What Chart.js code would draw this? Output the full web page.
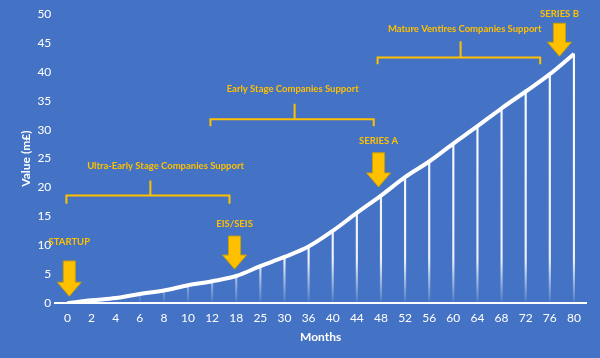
<!DOCTYPE html>
<html>
<head>
<meta charset="utf-8">
<script src="https://cdn.jsdelivr.net/npm/chart.js@4/dist/chart.umd.min.js"></script>
<style>
  html, body { margin: 0; padding: 0; background: #4472C4; }
  #wrap { width: 600px; height: 358px; }
</style>
</head>
<body>
<div id="wrap"><canvas id="growthChart"></canvas></div>
<script>
// Chart data
const months = ['0', '2', '4', '6', '8', '10', '12', '18', '25', '30', '36', '40', '44', '48', '52', '56', '60', '64', '68', '72', '76', '80'];
const values = [0, 0.5, 0.9, 1.6, 2.2, 3.1, 3.8, 4.7, 6.4, 8.0, 9.8, 12.5, 15.6, 18.6, 21.8, 24.5, 27.6, 30.6, 33.7, 36.6, 39.6, 43.1];
const yTicks = [0, 5, 10, 15, 20, 25, 30, 35, 40, 45, 50];

// Annotation texts
const milestoneLabels = ['STARTUP', 'EIS/SEIS', 'SERIES A', 'SERIES B'];
const stageLabels = ['Ultra-Early Stage Companies Support', 'Early Stage Companies Support', 'Mature Ventires Companies Support'];

const orange = '#FFC000';

// Milestone arrows: x in category index, y in chart values
const arrows = [
  { x: 0.08, text: 10.6, top: 7.3, tip: 1.2 },
  { x: 6.93, text: 13.7, top: 11.6, tip: 5.9 },
  { x: 12.9, text: 28.1, top: 26.0, tip: 20.1 },
  { x: 20.4, text: 50.0, top: 48.4, tip: 42.7 }
];
// Stage brackets
const brackets = [
  { x1: -0.04, x2: 6.72, mid: 3.44, textX: 4.07, y: 18.6, ends: 17.2, tick: 21.2, text: 23.8 },
  { x1: 5.93, x2: 12.7, mid: 9.42, textX: 9.34, y: 31.8, ends: 30.6, tick: 34.5, text: 37.0 },
  { x1: 12.86, x2: 19.6, mid: 16.3, textX: 16.47, y: 42.5, ends: 41.3, tick: 45.3, text: 47.4 }
];

const annotationPlugin = {
  id: 'annotations',
  afterDatasetsDraw(chart) {
    const ctx = chart.ctx;
    const xs = chart.scales.x;
    const ys = chart.scales.y;
    ctx.save();
    ctx.font = 'bold 9.5px Lato';
    ctx.textAlign = 'center';
    ctx.textBaseline = 'middle';

    brackets.forEach((b, i) => {
      const x1 = xs.getPixelForValue(b.x1);
      const x2 = xs.getPixelForValue(b.x2);
      const xm = xs.getPixelForValue(b.mid);
      const y = ys.getPixelForValue(b.y);
      ctx.strokeStyle = orange;
      ctx.lineWidth = 2;
      ctx.beginPath();
      ctx.moveTo(x1, ys.getPixelForValue(b.ends));
      ctx.lineTo(x1, y);
      ctx.lineTo(x2, y);
      ctx.lineTo(x2, ys.getPixelForValue(b.ends));
      ctx.moveTo(xm, y);
      ctx.lineTo(xm, ys.getPixelForValue(b.tick));
      ctx.stroke();
      ctx.fillStyle = orange;
      ctx.fillText(stageLabels[i], xs.getPixelForValue(b.textX), ys.getPixelForValue(b.text));
    });

    arrows.forEach((a, i) => {
      const x = xs.getPixelForValue(a.x);
      const top = ys.getPixelForValue(a.top);
      const tip = ys.getPixelForValue(a.tip);
      const headH = 14;
      ctx.fillStyle = orange;
      ctx.strokeStyle = '#C9A000';
      ctx.lineWidth = 1;
      ctx.beginPath();
      ctx.moveTo(x - 6, top);
      ctx.lineTo(x + 6, top);
      ctx.lineTo(x + 6, tip - headH);
      ctx.lineTo(x + 12, tip - headH);
      ctx.lineTo(x, tip);
      ctx.lineTo(x - 12, tip - headH);
      ctx.lineTo(x - 6, tip - headH);
      ctx.closePath();
      ctx.fill();
      ctx.stroke();
      ctx.fillStyle = orange;
      ctx.fillText(milestoneLabels[i], x, ys.getPixelForValue(a.text));
    });
    ctx.restore();
  }
};

// Drop line colour fades out near the axis
function dropColor(context) {
  const area = context.chart.chartArea;
  if (!area) return 'white';
  const g = context.chart.ctx.createLinearGradient(0, area.top, 0, area.bottom);
  g.addColorStop(0, 'rgba(255,255,255,1)');
  g.addColorStop(0.85, 'rgba(255,255,255,0.9)');
  g.addColorStop(1, 'rgba(255,255,255,0.05)');
  return g;
}

new Chart(document.getElementById('growthChart'), {
  data: {
    labels: months,
    datasets: [
      {
        type: 'line',
        label: 'Value',
        data: values,
        borderColor: '#ffffff',
        borderWidth: 4,
        pointRadius: 0,
        tension: 0.35,
        order: 0
      },
      {
        type: 'bar',
        label: 'Drop',
        data: values,
        backgroundColor: dropColor,
        barThickness: 1.5,
        order: 1
      }
    ]
  },
  options: {
    responsive: true,
    maintainAspectRatio: false,
    animation: false,
    layout: { padding: { left: 19, right: 14, top: 14, bottom: 14 } },
    plugins: {
      legend: { display: false },
      tooltip: { enabled: false }
    },
    scales: {
      x: {
        grid: { display: false, drawTicks: false },
        border: { color: '#ffffff', width: 2 },
        ticks: { color: '#ffffff', font: { family: 'Lato', size: 12 }, padding: 8, maxRotation: 0, autoSkip: false },
        title: { display: true, text: 'Months', color: '#ffffff', font: { family: 'Lato', size: 12, weight: 'bold' }, padding: { top: -4, bottom: 0 } }
      },
      y: {
        min: 0,
        max: 50,
        afterBuildTicks: (axis) => { axis.ticks = yTicks.map(v => ({ value: v })); },
        grid: { display: false, drawTicks: false },
        border: { display: false },
        ticks: { color: '#ffffff', font: { family: 'Lato', size: 12 }, padding: 4 },
        title: { display: true, text: 'Value (m£)', color: '#ffffff', font: { family: 'Lato', size: 12, weight: 'bold' }, padding: { top: 0, bottom: 0 } }
      }
    }
  },
  plugins: [annotationPlugin]
});
</script>
</body>
</html>
